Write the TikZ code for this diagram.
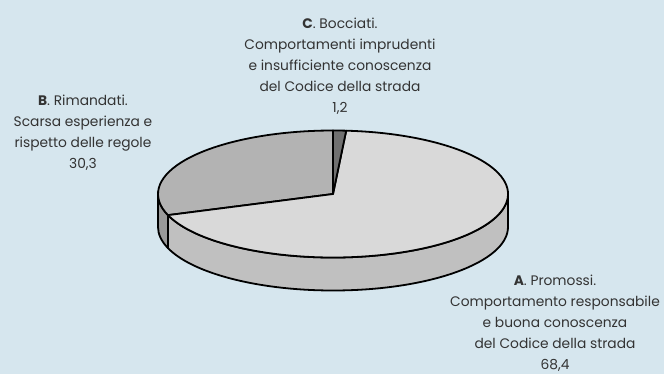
\documentclass[tikz,border=0pt]{standalone}
\usepackage{fontspec}
\setmainfont{Poppins}
\usetikzlibrary{positioning,calc}

\definecolor{bg}{HTML}{D6E6EE}
\definecolor{txt}{HTML}{333333}
\definecolor{topA}{HTML}{D9D9D9}
\definecolor{sideA}{HTML}{C0C0C0}
\definecolor{topB}{HTML}{B3B3B3}
\definecolor{sideB}{HTML}{999999}
\definecolor{topC}{HTML}{707070}

\begin{document}
\begin{tikzpicture}[x=1pt, y=1pt,
    slice/.style={draw=black, line width=1.8pt, line join=round},
    lab/.style={align=center, text=txt, font=\fontsize{13.8}{21}\selectfont, inner sep=0pt, anchor=base}]

    % Background
    \fill[bg] (0,0) rectangle (664,-374);
    \useasboundingbox (0,0) rectangle (664,-374);

    % Pie centre and depth
    \coordinate (O) at (333,-194);
    \coordinate (D) at (333,-227);

    % Side of B
    \filldraw[slice, fill=sideB] ($(O)+(180:175 and 63.5)$) arc[start angle=180, end angle=199.44, x radius=175, y radius=63.5]
        -- ($(D)+(199.44:175 and 63.5)$) arc[start angle=199.44, end angle=180, x radius=175, y radius=63.5] -- cycle;

    % Side of A
    \filldraw[slice, fill=sideA] ($(O)+(199.44:175 and 63.5)$) arc[start angle=199.44, end angle=360, x radius=175, y radius=63.5]
        -- ($(D)+(0:175 and 63.5)$) arc[start angle=360, end angle=199.44, x radius=175, y radius=63.5] -- cycle;

    % Top of B
    \filldraw[slice, fill=topB] (O) -- ($(O)+(90:175 and 63.5)$) arc[start angle=90, end angle=199.44, x radius=175, y radius=63.5] -- cycle;

    % Top of A
    \filldraw[slice, fill=topA] (O) -- ($(O)+(-160.56:175 and 63.5)$) arc[start angle=-160.56, end angle=85.68, x radius=175, y radius=63.5] -- cycle;

    % Top of C
    \filldraw[slice, fill=topC] (O) -- ($(O)+(85.68:175 and 63.5)$) arc[start angle=85.68, end angle=90, x radius=175, y radius=63.5] -- cycle;

    % Labels (anchored at the baseline of their last line)
    \node[lab] (labC) at (340,-113) {\textbf{C}. Bocciati.\\Comportamenti imprudenti\\e insufficiente conoscenza\\del Codice della strada\\1,2};
    \node[lab] (labB) at (83,-169) {\textbf{B}. Rimandati.\\Scarsa esperienza e\\rispetto delle regole\\30,3};
    \node[lab] (labA) at (555,-369) {\textbf{A}. Promossi.\\Comportamento responsabile\\e buona conoscenza\\del Codice della strada\\68,4};
\end{tikzpicture}
\end{document}
